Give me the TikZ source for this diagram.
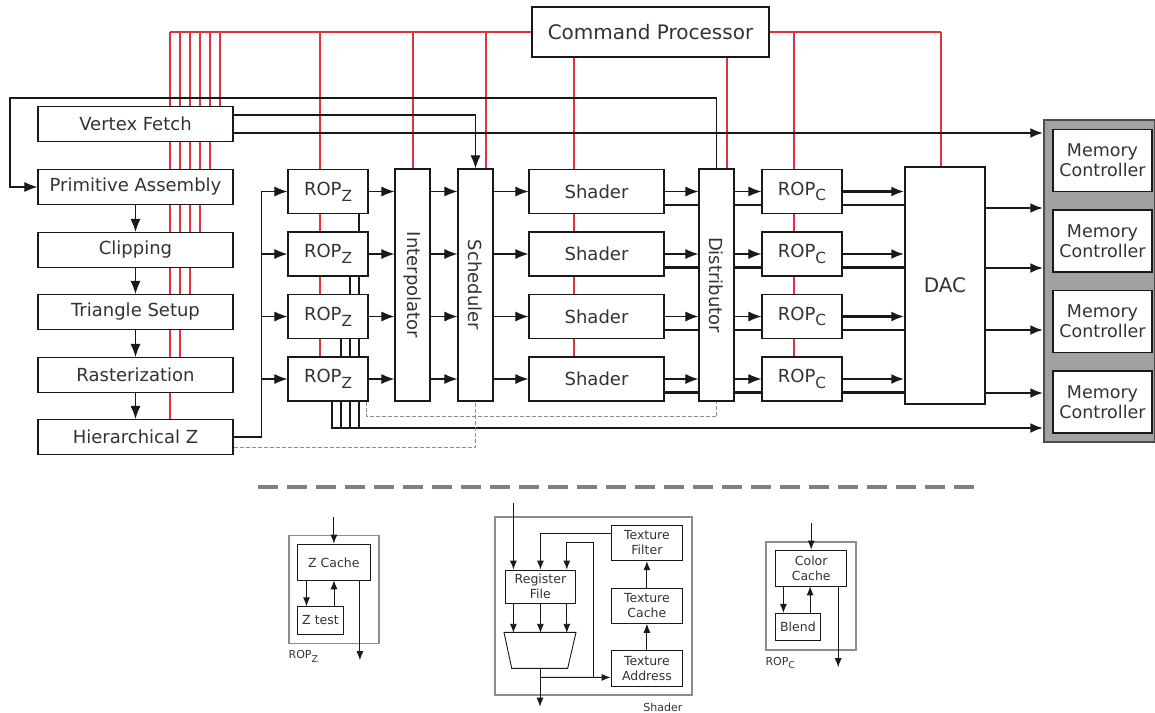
\documentclass[tikz,border=0pt]{standalone}
\usepackage{fontspec}
\setmainfont{DejaVu Sans}
\usetikzlibrary{positioning,arrows.meta,backgrounds,calc}
\definecolor{cmdred}{HTML}{E2323E}
\newcommand{\lowidx}[1]{\raisebox{-0.32em}{\scalebox{0.85}{#1}}}

\begin{document}
\begin{tikzpicture}[x=1pt,y=-1pt,
    block/.style={draw=black!90,line width=1.2pt,fill=white,inner sep=0pt,text=black!80,font=\fontsize{18}{21}\selectfont},
    stagebox/.style={block,minimum width=195pt,minimum height=35pt},
    unitbox/.style={block,minimum width=80pt,minimum height=44pt},
    tallbox/.style={block,minimum width=35pt,minimum height=232pt},
    membox/.style={block,minimum width=99pt,minimum height=62pt,align=center,font=\fontsize{17.5}{20}\selectfont},
    partbox/.style={draw=black!90,line width=0.9pt,fill=white,inner sep=0pt,text=black!80,align=center,font=\fontsize{12.5}{15}\selectfont},
    holder/.style={draw=black!45,line width=1.5pt,inner sep=0pt},
    tag/.style={inner sep=0pt,text=black!80,font=\fontsize{11}{13}\selectfont},
    redline/.style={cmdred,line width=1.1pt},
    thinline/.style={black!90,line width=1.1pt},
    busline/.style={black!90,line width=2.6pt},
    pline/.style={black!90,line width=0.9pt},
    arr/.style={-{Latex[length=13pt,width=10pt]}},
    sarr/.style={-{Latex[length=9pt,width=7pt]}},
    fbline/.style={black!45,line width=0.9pt,dash pattern=on 4pt off 2pt},
]
\useasboundingbox (0,0) rectangle (1155,712);

% front end
\node[stagebox] (vf)   at (135.5,124) {Vertex Fetch};
\node[stagebox] (pa)   at (135.5,187) {Primitive Assembly};
\node[stagebox] (clip) at (135.5,250) {Clipping};
\node[stagebox] (tri)  at (135.5,312) {Triangle Setup};
\node[stagebox] (rast) at (135.5,375) {Rasterization};
\node[stagebox] (hz)   at (135.5,437) {Hierarchical Z};
\node[block,minimum width=237pt,minimum height=50pt,font=\fontsize{20}{24}\selectfont] (cp) at (650.5,32) {Command Processor};

% pixel pipes
\foreach \i/\y in {1/191.5,2/254,3/316.5,4/379}{
  \node[unitbox] (rz\i) at (328,\y) {ROP\lowidx{Z}};
  \node[unitbox,minimum width=135pt] (sh\i) at (596.5,\y) {Shader};
  \node[unitbox] (rc\i) at (802,\y) {ROP\lowidx{C}};
}
\node[tallbox] (interp) at (412.5,285) {\rotatebox{-90}{Interpolator}};
\node[tallbox] (sched)  at (475.5,285) {\rotatebox{-90}{Scheduler}};
\node[tallbox] (dist)   at (716.5,285) {\rotatebox{-90}{Distributor}};
\node[block,minimum width=80pt,minimum height=237pt,font=\fontsize{20}{24}\selectfont] (dac) at (945,285.5) {DAC};

% memory
\node[draw=black!70,line width=1.4pt,fill=black!37,minimum width=111pt,minimum height=322pt,inner sep=0pt] (mcf) at (1099.5,281) {};
\foreach \i/\y in {1/160.5,2/241,3/321.5,4/402}
  \node[membox] (mc\i) at (1102.5,\y) {Memory\\Controller};

% control lines from the command processor
\begin{scope}[on background layer]
\draw[redline] (cp.west) -- (170,32);
\draw[redline] (cp.east) -- (941,32);
\foreach \x/\n in {170/hz,180/rast,190/tri,200/clip,210/pa,220/vf,320/rz4,413/interp,486/sched,574/sh4,727/dist,794/rc4,941/dac}{
  \coordinate (tap) at (\x,32);
  \draw[redline] (tap) -- (tap |- \n.north);
}
% z stack and colour buses
\coordinate (zbus) at (332,428);
\foreach \i/\dx in {1/31,2/22,3/13}
  \draw[busline] ([xshift=\dx pt]rz\i.south) -- ([xshift=\dx pt]rz\i.south |- zbus);
\foreach \i in {1,...,4}
  \draw[busline] ([yshift=9pt]sh\i.south east) -- ([yshift=9pt]rc\i.south west);
\end{scope}

\foreach \i/\j in {pa/clip,clip/tri,tri/rast,rast/hz}
  \draw[thinline,arr] (\i) -- (\j);
\draw[thinline,arr] (dist.north) |- (10,98) |- (pa.west);
\draw[thinline,arr] ([yshift=9pt]vf.east) -| (sched.north);
\draw[busline,arr] ([yshift=-9pt]vf.east) -- ([yshift=-9pt]vf.east -| mcf.west);
\draw[thinline] (hz.east) -| ([xshift=-26pt]rz1.west);
\draw[busline,arr] ([xshift=4pt]rz4.south) |- (zbus -| mcf.west);

\foreach \i in {1,...,4}{
  \draw[thinline,arr] ([xshift=-26pt]rz\i.west) -- (rz\i.west);
  \draw[thinline,arr] (rz\i.east) -- (rz\i.east -| interp.west);
  \draw[thinline,arr] (rz\i.east -| interp.east) -- (rz\i.east -| sched.west);
  \draw[thinline,arr] (rz\i.east -| sched.east) -- (sh\i.west);
  \draw[thinline,arr] (sh\i.east) -- (sh\i.east -| dist.west);
  \draw[thinline,arr] (sh\i.east -| dist.east) -- (rc\i.west);
  \draw[busline,arr] (rc\i.east) -- (rc\i.east -| dac.west);
  \draw[busline] ([yshift=9pt]rc\i.south east) -- ([yshift=9pt]rc\i.south east -| dac.west);
}
\foreach \dy in {77.5,17.5,-44.5,-107.5}
  \draw[busline,arr] ([yshift=\dy pt]dac.east) -- ([yshift=\dy pt]dac.east -| mcf.west);

% feedback paths
\draw[fbline] ([xshift=-2pt]rz4.south east) -- ++(0,15) -| (dist.south);
\draw[fbline] ([yshift=-10pt]hz.east) -| (sched.south);

\draw[black!50,line width=3.2pt,dash pattern=on 20pt off 9pt] (258,487) -- (975,487);

% ROP_Z detail
\node[holder,minimum width=90pt,minimum height=107.6pt] (zfr) at (334.2,589.5) {};
\node[partbox,minimum width=72.3pt,minimum height=36.7pt] (zc) at (333.9,562.4) {Z Cache};
\node[partbox,minimum width=45.6pt,minimum height=27.3pt] (zt) at (320.5,620.4) {Z test};
\draw[pline,sarr] (zc.north) ++(0,-27) -- (zc.north);
\draw[pline,sarr] ([xshift=-14pt]zt.north) ++(0,-26) -- ([xshift=-14pt]zt.north);
\draw[pline,sarr] ([xshift=13.5pt]zt.north) -- ++(0,-26);
\draw[pline,sarr] ([xshift=26pt]zc.south) -- ++(0,79);
\node[tag,anchor=north west] (zlab) at ([yshift=-6.5pt]zfr.south west) {ROP\lowidx{Z}};

% shader detail
\node[holder,minimum width=196.7pt,minimum height=178.3pt] (sfr) at (593.4,605.9) {};
\node[partbox,minimum width=71.7pt,minimum height=35.7pt] (tf) at (646.9,542.9) {Texture\\Filter};
\node[partbox,minimum width=71.7pt,minimum height=35pt] (tc) at (646.9,605.8) {Texture\\Cache};
\node[partbox,minimum width=71.7pt,minimum height=36.7pt] (ta) at (646.9,668.4) {Texture\\Address};
\node[partbox,minimum width=70.7pt,minimum height=33.3pt] (rf) at (540.4,586.7) {Register\\File};
\draw[pline] (504,632.3) -- (576,632.3) -- (567.7,668.3) -- (511.7,668.3) -- cycle;
\coordinate (alu) at (540,668.3);
\draw[pline,sarr] ([xshift=-27pt]rf.north) ++(0,-67) -- ([xshift=-27pt]rf.north);
\draw[pline,sarr] ([yshift=9.5pt]tf.west) -| (rf.north);
\foreach \dx in {-27,0,26.4}
  \draw[pline,sarr] ([xshift=\dx pt]rf.south) -- ++(0,29);
\draw[pline,sarr] (alu) -- ++(0,38.4);
\draw[pline,sarr] (alu) ++(0,9) -- ([yshift=-9pt]ta.west);
\draw[pline,sarr] ($(alu)+(53.3,9)$) |- ($(rf.north)+(26.4,-26.7)$) -- ([xshift=26.4pt]rf.north);
\draw[pline,sarr] (ta) -- (tc);
\draw[pline,sarr] (tc) -- (tf);
\node[tag,anchor=north east] (slab) at ([xshift=-10pt,yshift=-7pt]sfr.south east) {Shader};

% ROP_C detail
\node[holder,minimum width=89.7pt,minimum height=108.3pt] (cfr) at (810.9,595.9) {};
\node[partbox,minimum width=71pt,minimum height=36.7pt] (cc) at (811.2,568.4) {Color\\Cache};
\node[partbox,minimum width=44.3pt,minimum height=26.7pt] (bl) at (797.9,626.7) {Blend};
\draw[pline,sarr] (cc.north) ++(0,-27) -- (cc.north);
\draw[pline,sarr] ([xshift=-14.5pt]bl.north) ++(0,-26.6) -- ([xshift=-14.5pt]bl.north);
\draw[pline,sarr] ([xshift=12.2pt]bl.north) -- ++(0,-26.6);
\draw[pline,sarr] ([xshift=27pt]cc.south) -- ++(0,80);
\node[tag,anchor=north west] (clab) at ([yshift=-6pt]cfr.south west) {ROP\lowidx{C}};
\end{tikzpicture}
\end{document}
